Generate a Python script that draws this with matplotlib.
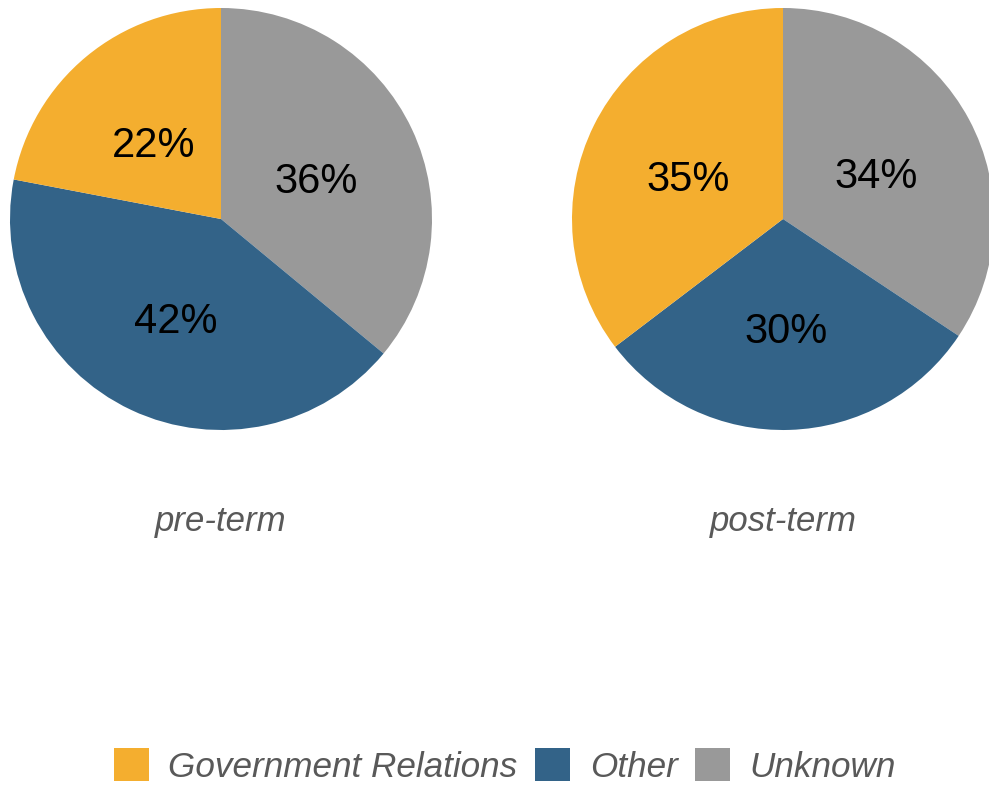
import matplotlib.pyplot as plt
from matplotlib.patches import Patch

plt.rcParams['font.family'] = ['Liberation Sans', 'DejaVu Sans']

# shares per period, drawn clockwise from the top
categories = ["Unknown", "Other", "Government Relations"]
pre_term = [36, 42, 22]
post_term = [34, 30, 35]
periods = ["pre-term", "post-term"]
colors = {"Government Relations": "#F4AE2F", "Other": "#336388", "Unknown": "#999999"}
legend_order = ["Government Relations", "Other", "Unknown"]

W, H = 989, 786
fig = plt.figure(figsize=(W / 100, H / 100), dpi=100)
ax = fig.add_axes([0, 0, 1, 1])

# pie centres in pixel units (measured from the top-left)
centers = [(221, 219), (783, 219)]
radius = 211

for vals, name, (cx, cy) in zip([pre_term, post_term], periods, centers):
    wedges, texts = ax.pie(vals, colors=[colors[c] for c in categories], startangle=90,
                           counterclock=False, radius=radius, center=(cx, H - cy),
                           labels=[f"{v}%" for v in vals], labeldistance=0.5,
                           textprops=dict(fontsize=30, color='black', ha='center', va='center'),
                           wedgeprops=dict(linewidth=0), frame=True)
    # nudge percentage labels down a little
    for t in texts:
        t.set_y(t.get_position()[1] - 8)
    ax.text(cx, H - 522, name, ha='center', va='center', fontsize=25,
            style='italic', color='#595959')

ax.set_xlim(0, W)
ax.set_ylim(0, H)
ax.set_aspect('equal')
ax.axis('off')

handles = [Patch(facecolor=colors[c], edgecolor='none', label=c) for c in legend_order]
leg = fig.legend(handles=handles, loc='center', bbox_to_anchor=(505 / W, 1 - 766 / H),
                 ncol=3, frameon=False, fontsize=25.3, handlelength=1.0, handleheight=1.05,
                 handletextpad=0.55, columnspacing=0.5, labelcolor='#595959')
for t in leg.get_texts():
    t.set_style('italic')

fig.savefig('out.png', dpi=100)
